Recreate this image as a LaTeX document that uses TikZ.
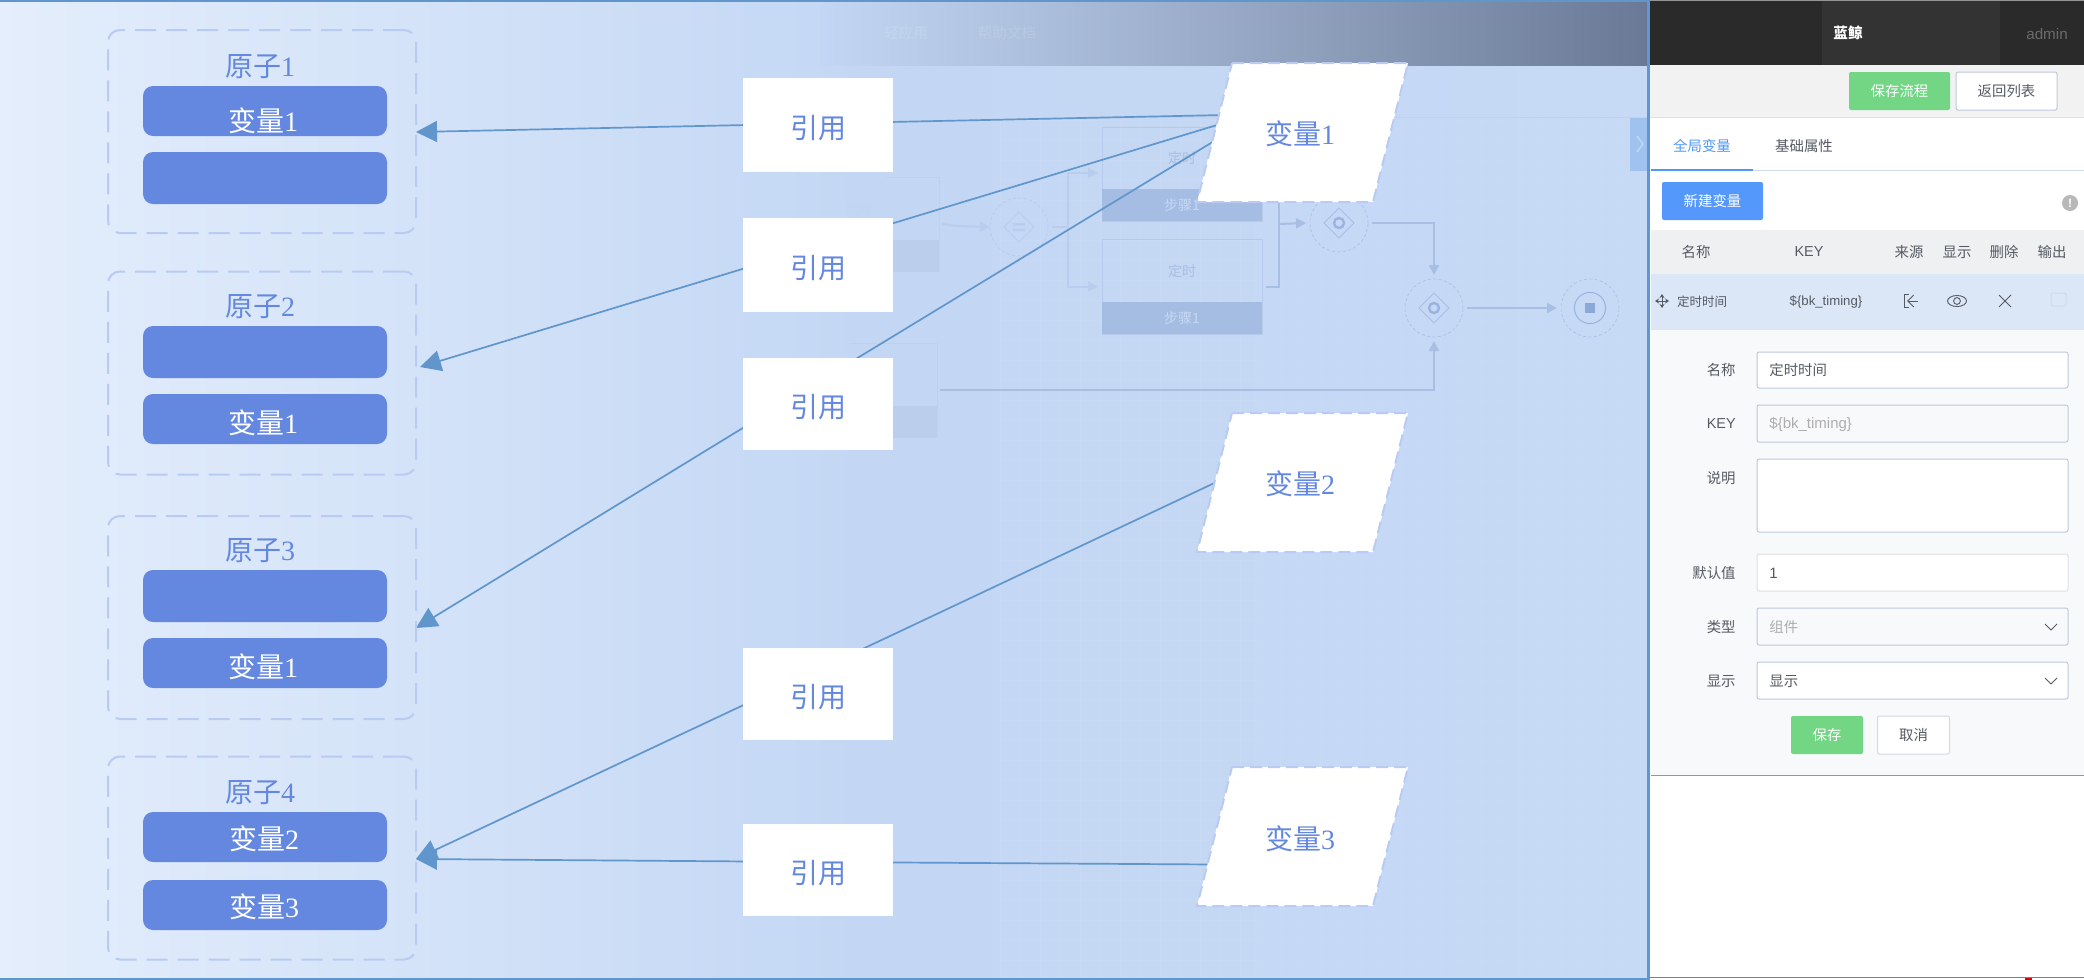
\documentclass[tikz,border=0pt]{standalone}
\usepackage{fontspec}
\setmainfont{Liberation Serif}
\setsansfont{Liberation Sans}
\newfontfamily\cjk{Noto Sans CJK SC}
\usetikzlibrary{arrows.meta}
\definecolor{bgL}{HTML}{E4EEFC}
\definecolor{bgM}{HTML}{C3D7F4}
\definecolor{bgR}{HTML}{C6D9F5}
\definecolor{hdrR}{HTML}{6A7A96}
\definecolor{dash}{HTML}{B9CBF2}
\definecolor{fillb}{HTML}{6488E0}
\definecolor{txtb}{HTML}{6488E0}
\definecolor{lnk}{HTML}{6096CC}
\definecolor{flowA}{HTML}{B9CEEE}
\definecolor{flowB}{HTML}{A9BEE3}
\definecolor{stepD}{HTML}{A6BDE3}
\definecolor{stepL}{HTML}{BBCEEC}
\definecolor{stepB}{HTML}{B6CAEB}
\definecolor{stepF}{HTML}{BDD1F1}
\definecolor{stepT}{HTML}{C6D8F3}
\definecolor{ringc}{HTML}{9CB3DF}
\definecolor{endc}{HTML}{8CA7D9}
\definecolor{green}{HTML}{72D685}
\definecolor{bluebtn}{HTML}{5598FB}
\definecolor{tabb}{HTML}{4F98F7}
\definecolor{fieldb}{HTML}{BFC9DC}
\definecolor{fieldl}{HTML}{DDE0E6}
\definecolor{panelbg}{HTML}{F8F9FB}
\definecolor{lbl}{HTML}{555A63}
\definecolor{hdrA}{HTML}{2A2A2A}
\definecolor{hdrB}{HTML}{333333}
\definecolor{toolbg}{HTML}{F2F2F2}
\definecolor{thbg}{HTML}{EFF0F2}
\definecolor{rowbg}{HTML}{DBE6F6}
\definecolor{formline}{HTML}{6F9BE0}
\definecolor{tabfill}{HTML}{9FC2EF}
\definecolor{tabchev}{HTML}{C6DBF6}
\definecolor{edge}{HTML}{5F96D5}
\newcommand{\reftxt}{\raisebox{0pt}[\dimexpr\height+3pt\relax]{引用}}
\pgfdeclarelayer{bglayer}
\pgfdeclarelayer{linelayer}
\pgfsetlayers{bglayer,linelayer,main}
\tikzset{
  atombox/.style={draw=dash,line width=1pt,dash pattern=on 10.5pt off 5pt,rounded corners=6pt,minimum width=154pt,minimum height=101.5pt,inner sep=0,outer sep=0},
  inbox/.style={fill=fillb,draw=none,rounded corners=5pt,minimum width=122pt,inner sep=0,outer sep=0,text=white,font=\fontsize{14}{14}\selectfont},
  atomtitle/.style={text=txtb,font=\fontsize{14}{14}\selectfont,inner sep=0},
  reftext/.style={},
  refbox/.style={fill=white,minimum width=75pt,inner sep=0,outer sep=0,text=txtb,font=\fontsize{14}{14}\selectfont\cjk},
  varnode/.style={minimum width=70pt,minimum height=69pt,inner sep=0,outer sep=0,text=txtb,font=\fontsize{14}{14}\selectfont},
  para/.style={fill=white,draw=dash,line width=1pt,dash pattern=on 6pt off 3pt},
  lnkline/.style={draw=lnk,line width=0.85pt,-{Triangle[length=10.5pt,width=10.5pt]}},
  stepbox/.style={minimum width=80pt,inner sep=0,outer sep=0,draw=stepB,line width=0.5pt},
  steptxt/.style={inner sep=0,font=\fontsize{7}{7}\selectfont\cjk},
  gate/.style={circle,minimum size=29pt,inner sep=0,outer sep=0,line width=0.3pt,dash pattern=on 1.5pt off 1.2pt},
  flowline/.style={line width=1pt,-{Triangle[length=5pt,width=5pt]}},
  ptxt/.style={inner sep=0,font=\fontsize{7.2}{7.2}\selectfont\cjk,text=lbl},
  rowtxt/.style={inner sep=0,font=\fontsize{6.25}{6.25}\selectfont\cjk,text=lbl},
  latin/.style={inner sep=0,font=\fontsize{6.6}{6.6}\selectfont\sffamily,text=lbl},
  field/.style={draw=fieldb,fill=white,line width=0.5pt,rounded corners=1pt,minimum width=155.5pt,inner sep=0,outer sep=0},
  btn/.style={rounded corners=1pt,inner sep=0,outer sep=0,font=\fontsize{7.2}{7.2}\selectfont\cjk},
  icon/.style={draw=lbl,line width=0.45pt},
}
\begin{document}
\begin{tikzpicture}[x=0.5pt,y=-0.5pt]
\useasboundingbox (0,0) rectangle (2084,980);
\begin{pgfonlayer}{bglayer}
  % page backgrounds
  \fill[white] (0,0) rectangle (2084,980);
  \shade[left color=bgL,right color=bgM] (0,0) rectangle (860,980);
  \shade[left color=bgM,right color=bgR] (860,0) rectangle (1648,980);
  \shade[left color=bgM,right color=hdrR] (820,2) rectangle (1648,65);
  % faint grid
  \foreach \gx in {1000,1020,...,1640} {\draw[white,opacity=.05,line width=.3pt] (\gx,117) -- (\gx,978);}
  \foreach \gy in {120,140,...,970} {\draw[white,opacity=.05,line width=.3pt] (1000,\gy) -- (1648,\gy);}
  \draw[stepF,line width=.4pt] (1100,117) -- (1648,117);
  \node[inner sep=0,text=white,opacity=.14,font=\fontsize{7.3}{7.3}\selectfont\cjk] (nav1) at (906,33) {轻应用};
  \node[inner sep=0,text=white,opacity=.14,font=\fontsize{7.3}{7.3}\selectfont\cjk] (nav2) at (1007,33) {帮助文档};
  % faded flow chart
  \draw[stepF,line width=.4pt] (885,177) -- (939,177) -- (939,272);
  \fill[stepL] (885,240) rectangle (939,272);
  \node[steptxt,text=bgM!93!stepB] (sat) at (858,209) {定时};
  \draw[stepF,line width=.4pt] (850,343) -- (937,343) -- (937,438);
  \fill[stepL] (885,406) rectangle (937,438);
  \node[stepbox,minimum height=47pt] (sc) at (1182,174) {};
  \fill[stepD] (1102,189) rectangle (1262,221);
  \node[steptxt,text=flowB] (sct) at (1182,158) {定时};
  \node[steptxt,text=stepT] (scd) at (1182,205) {步骤1};
  \node[stepbox,minimum height=47.5pt] (sd) at (1182,286.5) {};
  \fill[stepD] (1102,302) rectangle (1262,334);
  \node[steptxt,text=flowB] (sdt) at (1182,271) {定时};
  \node[steptxt,text=stepT] (sdd) at (1182,318) {步骤1};
  \node[gate,draw=stepB] (g1) at (1019,227) {};
  \draw[flowA,line width=.5pt] (1019,212) -- (1034,227) -- (1019,242) -- (1004,227) -- cycle;
  \fill[flowA] (1013,223) rectangle (1025,225.5) (1013,228.5) rectangle (1025,231);
  \node[gate,draw=flowB] (g2) at (1339,223) {};
  \draw[flowB,line width=.5pt] (1339,208) -- (1354,223) -- (1339,238) -- (1324,223) -- cycle;
  \draw[ringc,line width=1.2pt] (1339,223) circle (2.5pt);
  \node[gate,draw=flowB] (g3) at (1434,308) {};
  \draw[flowB,line width=.5pt] (1434,293) -- (1449,308) -- (1434,323) -- (1419,308) -- cycle;
  \draw[ringc,line width=1.2pt] (1434,308) circle (2.5pt);
  \node[gate,draw=flowB] (gend) at (1590,308) {};
  \draw[ringc,line width=.5pt] (1590,308) circle (7.8pt);
  \fill[endc] (1585,303) rectangle (1595,313);
  \coordinate (fa0) at (942,224);
  \coordinate (fa1) at (1068,173);
  \coordinate (fa2) at (1068,226);
  \coordinate (fa3) at (1279,224);
  \coordinate (fa4) at (1279,203);
  \coordinate (fa5) at (940,390);
  \draw[flowA,flowline] (fa0) -- (957,226) -- (g1.west);
  \draw[flowA,line width=1pt] ([xshift=2pt]g1.east) -| (fa1);
  \draw[flowA,flowline] (fa1) -- ([xshift=-2pt]sc.west |- fa1);
  \draw[flowA,flowline] (fa2) |- ([xshift=-2pt]sd.west);
  \draw[flowB,line width=1pt] ([xshift=2pt]sd.east) -| (fa4);
  \draw[flowB,flowline] (fa3) -- ([xshift=-2pt]g2.west);
  \draw[flowB,flowline] ([xshift=2pt]g2.east) -| ([yshift=2pt]g3.north);
  \draw[flowB,flowline] ([xshift=2pt]g3.east) -- ([xshift=-2pt]gend.west);
  \draw[flowB,flowline] (fa5) -| ([yshift=-2pt]g3.south);
\end{pgfonlayer}

% atoms
\node[atombox] (atom1) at (262,131.5) {};
\node[atombox] (atom2) at (262,373) {};
\node[atombox] (atom3) at (262,617.5) {};
\node[atombox] (atom4) at (262,858) {};
\node[atomtitle] (t1) at (260,66.5) {{\cjk 原子}1};
\node[atomtitle] (t2) at (260,306.5) {{\cjk 原子}2};
\node[atomtitle] (t3) at (260,551) {{\cjk 原子}3};
\node[atomtitle] (t4) at (260,793) {{\cjk 原子}4};
\node[inbox,minimum height=25pt] (a1a) at (265,111) {};
\node[inbox,minimum height=26pt] (a1b) at (265,178) {};
\node[inbox,minimum height=26pt] (a2a) at (265,352) {};
\node[inbox,minimum height=25pt] (a2b) at (265,419) {};
\node[inbox,minimum height=26pt] (a3a) at (265,596) {};
\node[inbox,minimum height=25pt] (a3b) at (265,663) {};
\node[inbox,minimum height=25pt] (a4a) at (265,837) {};
\node[inbox,minimum height=25pt] (a4b) at (265,905) {};
\node[inner sep=0,text=white,font=\fontsize{14}{14}\selectfont] (a1at) at (263,120.5) {{\cjk 变量}1};
\node[inner sep=0,text=white,font=\fontsize{14}{14}\selectfont] (a2bt) at (263,422.5) {{\cjk 变量}1};
\node[inner sep=0,text=white,font=\fontsize{14}{14}\selectfont] (a3bt) at (263,666.5) {{\cjk 变量}1};
\node[inner sep=0,text=white,font=\fontsize{14}{14}\selectfont] (a4at) at (264,839) {{\cjk 变量}2};
\node[inner sep=0,text=white,font=\fontsize{14}{14}\selectfont] (a4bt) at (264,907) {{\cjk 变量}3};

% reference boxes
\node[refbox,minimum height=47pt] (ref1) at (818,125) {\reftxt};
\node[refbox,minimum height=47pt] (ref2) at (818,265) {\reftxt};
\node[refbox,minimum height=46pt] (ref3) at (818,404) {\reftxt};
\node[refbox,minimum height=46pt] (ref4) at (818,694) {\reftxt};
\node[refbox,minimum height=46pt] (ref5) at (818,870) {\reftxt};

% variables
\draw[para] (1232,63) -- (1408,63) -- (1373,202) -- (1197,202) -- cycle;
\draw[para] (1232,413) -- (1408,413) -- (1373,552) -- (1197,552) -- cycle;
\draw[para] (1232,767) -- (1408,767) -- (1373,906) -- (1197,906) -- cycle;
\node[varnode] (var1) at (1300,134) {{\cjk 变量}1};
\node[varnode] (var2) at (1300,484) {{\cjk 变量}2};
\node[varnode] (var3) at (1300,838.5) {{\cjk 变量}3};

% links, under the white shapes
\begin{pgfonlayer}{linelayer}
  \draw[lnkline] ([shift={(-75,-19)}]var1.center) -- ([shift={(0,-1.5)}]ref1.center) -- ([shift={(0,0.5)}]atom1.east);
  \draw[lnkline] ([shift={(-78,-10.5)}]var1.center) -- ([shift={(0,-19)}]ref2.center) -- ([shift={(4,-6)}]atom2.east);
  \draw[lnkline] ([shift={(-80,3.5)}]var1.center) -- ([shift={(0,-22)}]ref3.center) -- ([shift={(0,10.5)}]atom3.east);
  \draw[lnkline] ([shift={(-75,-6)}]var2.center) -- ([shift={(0,-24)}]ref4.center) -- ([shift={(0,1)}]atom4.east);
  \draw[lnkline] ([shift={(-85,26)}]var3.center) -- ([shift={(0,-8)}]ref5.center) -- ([shift={(0,1)}]atom4.east);
\end{pgfonlayer}

% frame of overlay
\fill[lnk] (0,0) rectangle (1648,2.2);
\fill[lnk] (0,977.5) rectangle (1648,980);
% right panel
\fill[white] (1649,0) rectangle (2084,980);
\fill[black!42] (1649,0) rectangle (2084,1.2);
\fill[hdrA] (1649,1.2) rectangle (2084,65);
\fill[hdrB] (1822,1.2) rectangle (2000,65);
\node[inner sep=0,text=white,font=\fontsize{7.3}{7.3}\selectfont\cjk\bfseries] (brand) at (1848,33) {蓝鲸};
\node[inner sep=0,text=black!58,font=\fontsize{7.6}{7.6}\selectfont\sffamily] (admin) at (2047,34) {admin};
\fill[toolbg] (1649,65) rectangle (2084,117);
\fill[black!12] (1649,117) rectangle (2084,118);
\node[btn,fill=green,text=white,minimum width=50.5pt,minimum height=19pt] (bsave) at (1899.5,91) {保存流程};
\node[btn,fill=white,draw=fieldb,line width=.5pt,text=lbl,minimum width=50.5pt,minimum height=19pt] (bback) at (2006.5,91) {返回列表};
\node[ptxt,text=tabb] (tab1) at (1702,146) {全局变量};
\node[ptxt,text=lbl] (tab2) at (1804,146) {基础属性};
\fill[fieldb!70!white] (1651,170) rectangle (2084,171);
\fill[tabb] (1651,169) rectangle (1753,171);
\node[btn,fill=bluebtn,text=white,minimum width=50.5pt,minimum height=19pt] (bnew) at (1712.5,201) {新建变量};
\node[circle,fill=black!28,minimum size=8pt,inner sep=0,text=white,font=\fontsize{6}{6}\selectfont\sffamily\bfseries] (info) at (2070,203) {!};
\fill[thbg] (1651,230) rectangle (2084,273.5);
\fill[rowbg] (1651,273.5) rectangle (2084,330);
\node[ptxt] (h1) at (1696,252) {名称};
\node[inner sep=0,text=lbl,font=\fontsize{7.2}{7.2}\selectfont\sffamily] (h2) at (1809,252) {KEY};
\node[ptxt] (h3) at (1909,252) {来源};
\node[ptxt] (h4) at (1957,252) {显示};
\node[ptxt] (h5) at (2004,252) {删除};
\node[ptxt] (h6) at (2052,252) {输出};
% row
\draw[icon,<->,>={Stealth[length=2pt,width=2.5pt]}] (1655,301) -- (1669,301);
\draw[icon,<->,>={Stealth[length=2pt,width=2.5pt]}] (1662,294) -- (1662,308);
\node[rowtxt] (rname) at (1702,302) {定时时间};
\node[latin] (rkey) at (1826,302) {\$\{bk\_timing\}};
\draw[icon] (1909,294) -- (1904,294) -- (1904,307) -- (1909,307);
\draw[icon,->,>={Straight Barb[length=3pt,width=6pt]}] (1918,301) -- (1907,301);
\draw[icon] (1957,301) ellipse (9.5 and 5.5);
\draw[icon] (1957,301) circle (1.7pt);
\draw[icon] (1999,295) -- (2011,307) (2011,295) -- (1999,307);
\draw[fieldb!70!white,line width=.5pt,rounded corners=1pt] (2051,293) rectangle (2066,306);
% form
\fill[panelbg] (1651,330) rectangle (2084,775);
\fill[formline] (1651,774.5) rectangle (2084,776);
\node[ptxt,anchor=east] (f1) at (1736,370) {名称};
\node[inner sep=0,anchor=east,text=lbl,font=\fontsize{7.2}{7.2}\selectfont\sffamily] (f2) at (1736,424) {KEY};
\node[ptxt,anchor=east] (f3) at (1736,478) {说明};
\node[ptxt,anchor=east] (f4) at (1736,573) {默认值};
\node[ptxt,anchor=east] (f5) at (1736,627) {类型};
\node[ptxt,anchor=east] (f6) at (1736,681) {显示};
\node[field,minimum height=18pt] (fn) at (1912.5,370) {};
\node[field,minimum height=18.5pt,fill=panelbg] (fk) at (1912.5,423.5) {};
\node[field,minimum height=36.5pt] (fd) at (1912.5,495.5) {};
\node[field,minimum height=18.5pt,draw=fieldl] (fv) at (1912.5,572.5) {};
\node[field,minimum height=18.5pt,fill=panelbg] (ft) at (1912.5,626.5) {};
\node[field,minimum height=18.5pt] (fs) at (1912.5,680.5) {};
\node[ptxt,anchor=west] (fnt) at (1769,370) {定时时间};
\node[latin,anchor=west,text=black!32,font=\fontsize{7.5}{7.5}\selectfont\sffamily] (fkt) at (1769,424) {\$\{bk\_timing\}};
\node[latin,anchor=west,font=\fontsize{7.5}{7.5}\selectfont\sffamily] (fvt) at (1769,573) {1};
\node[ptxt,anchor=west,text=black!32] (ftt) at (1769,627) {组件};
\node[ptxt,anchor=west] (fst) at (1769,681) {显示};
\draw[icon] (2045,624) -- (2051,630) -- (2057,624);
\draw[icon] (2045,678) -- (2051,684) -- (2057,678);
\node[btn,fill=green,text=white,minimum width=36pt,minimum height=19pt] (bs2) at (1827,735) {保存};
\node[btn,fill=white,draw=fieldb!70!white,line width=.5pt,text=lbl,minimum width=36pt,minimum height=19pt] (bc2) at (1913.5,735) {取消};
\fill[black!50] (1649,976.5) rectangle (2084,977.5);
\fill[red!85!black] (2025,978) rectangle (2032,980);
% overlay right edge and toggle tab
\fill[tabfill] (1630,118) rectangle (1648,171);
\draw[tabchev,line width=.6pt] (1637,136) -- (1643,144) -- (1637,152);
\fill[edge] (1647,0) rectangle (1649.5,980);
\end{tikzpicture}
\end{document}
